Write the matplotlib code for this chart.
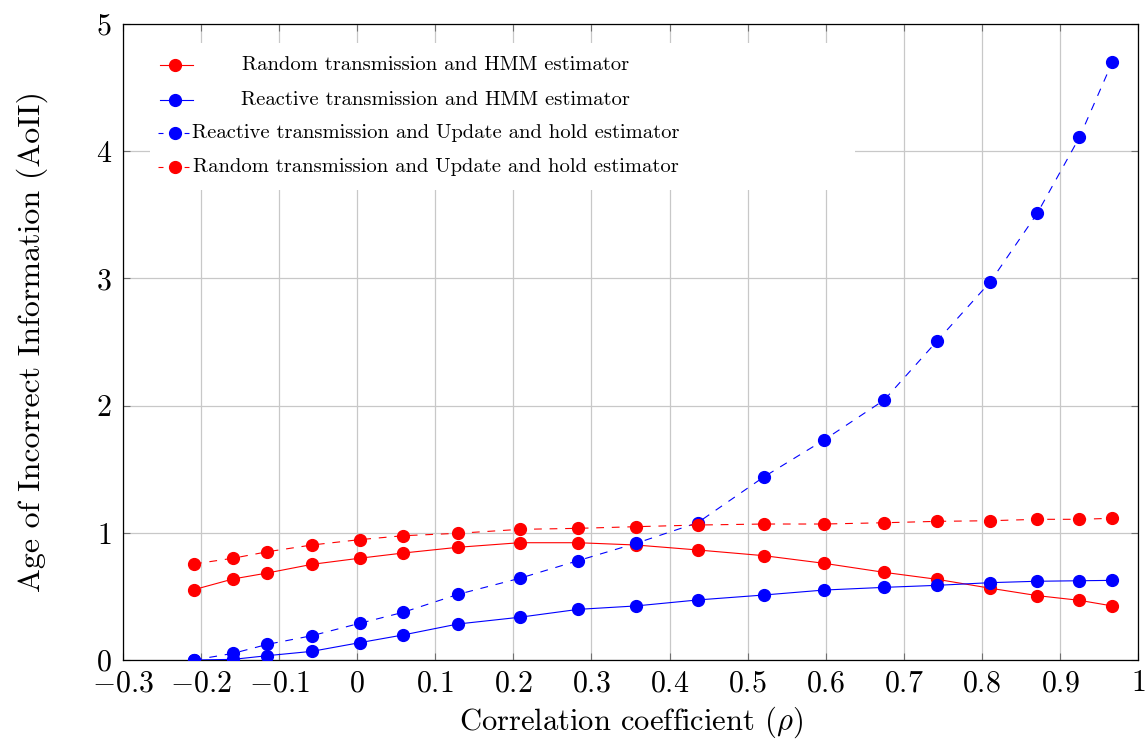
import matplotlib
matplotlib.use("Agg")
import matplotlib.pyplot as plt
from matplotlib.patches import Rectangle
from matplotlib.ticker import FuncFormatter

plt.rcParams['font.family'] = 'serif'
plt.rcParams['font.serif'] = ['cmr10']
plt.rcParams['mathtext.fontset'] = 'cm'
plt.rcParams['axes.formatter.use_mathtext'] = True

rho = [-0.209, -0.159, -0.115, -0.058, 0.003, 0.059, 0.129, 0.208, 0.283, 0.357,
       0.436, 0.521, 0.598, 0.675, 0.743, 0.811, 0.871, 0.925, 0.967]

random_hmm = [0.553, 0.637, 0.684, 0.752, 0.800, 0.841, 0.886, 0.922, 0.922, 0.904,
              0.865, 0.820, 0.760, 0.689, 0.634, 0.564, 0.506, 0.469, 0.425]
reactive_hmm = [0.000, 0.005, 0.034, 0.068, 0.136, 0.197, 0.283, 0.336, 0.398, 0.425,
                0.472, 0.511, 0.550, 0.571, 0.587, 0.608, 0.619, 0.623, 0.626]
reactive_uh = [0.000, 0.052, 0.123, 0.191, 0.288, 0.375, 0.516, 0.642, 0.781, 0.917,
               1.079, 1.440, 1.730, 2.044, 2.510, 2.974, 3.512, 4.109, 4.699]
random_uh = [0.755, 0.800, 0.851, 0.904, 0.946, 0.977, 0.996, 1.027, 1.035, 1.048,
             1.061, 1.069, 1.069, 1.079, 1.090, 1.095, 1.106, 1.106, 1.114]

labels = ["Random transmission and HMM estimator",
          "Reactive transmission and HMM estimator",
          "Reactive transmission and Update and hold estimator",
          "Random transmission and Update and hold estimator"]

xticks = [-0.3, -0.2, -0.1, 0, 0.1, 0.2, 0.3, 0.4, 0.5, 0.6, 0.7, 0.8, 0.9, 1]
yticks = [0, 1, 2, 3, 4, 5]

DASH = (0, (7, 7))
series = [
    (random_hmm, 'red', '-'),
    (reactive_hmm, 'blue', '-'),
    (reactive_uh, 'blue', DASH),
    (random_uh, 'red', DASH),
]

fig = plt.figure(figsize=(11.48, 7.45), dpi=100)
ax = fig.add_axes([0.1071, 0.1141, 0.8842, 0.8537])

for ys, c, ls in series:
    ax.plot(rho, ys, color=c, ls=ls, lw=0.8, marker='o', ms=8.5, zorder=3)

ax.set_xlim(-0.3, 1)
ax.set_ylim(0, 5)
ax.set_xticks(xticks)
ax.set_yticks(yticks)
fmt = FuncFormatter(lambda v, pos: f"${round(v, 2):g}$")
ax.xaxis.set_major_formatter(fmt)
ax.yaxis.set_major_formatter(fmt)
ax.grid(True, color='#c8c8c8', lw=0.9, zorder=0)
ax.set_axisbelow(True)
ax.tick_params(direction='in', length=5, width=0.8, color='#707070',
               top=True, right=True, labelsize=21.5, pad=7)
ax.tick_params(axis='y', pad=8)
for sp in ax.spines.values():
    sp.set_linewidth(0.9)

ax.set_xlabel(r"Correlation coefficient ($\rho$)", fontsize=22, labelpad=5)
ax.set_ylabel("Age of Incorrect Information (AoII)", fontsize=23, labelpad=34)

# hand-built legend with centred entry text
ax.add_patch(Rectangle((0.0266, 0.739), 0.695, 0.231, transform=ax.transAxes,
                       facecolor='white', edgecolor='none', zorder=4))
rows = [0.9355, 0.8805, 0.8286, 0.7752]
for (ys, c, ls), lab, yr in zip(series, labels, rows):
    if ls == '-':
        ax.plot([0.0365, 0.069], [yr, yr], color=c, lw=0.8, transform=ax.transAxes,
                clip_on=False, zorder=5)
    else:
        ax.plot([0.0345, 0.065], [yr, yr], color=c, lw=0.8, ls=(0, (4.5, 19)),
                transform=ax.transAxes, clip_on=False, zorder=5)
    ax.plot([0.0515], [yr], color=c, marker='o', ms=8.5, transform=ax.transAxes,
            clip_on=False, zorder=6)
    ax.text(0.308, yr, lab, transform=ax.transAxes, ha='center', va='center',
            fontsize=14.8, zorder=6)

fig.savefig("out.png", dpi=100)
